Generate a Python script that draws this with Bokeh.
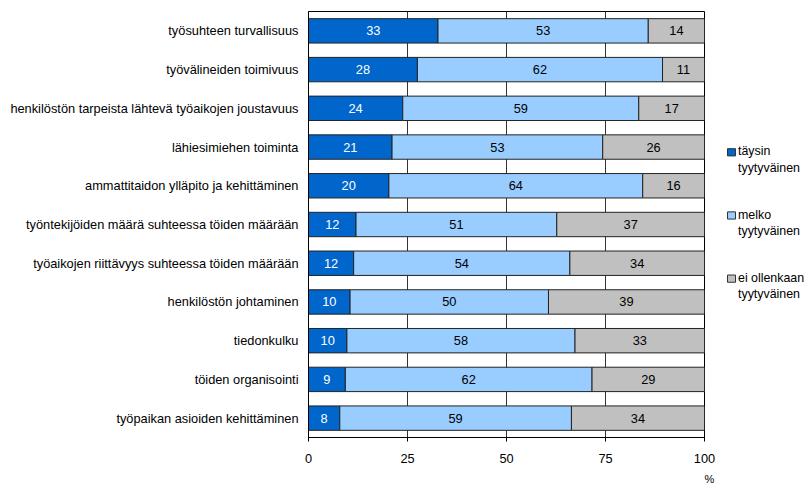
import numpy as np
from bokeh.plotting import figure
from bokeh.models import ColumnDataSource, FactorRange, Range1d, FixedTicker
from bokeh.core.properties import value
from bokeh.layouts import row, column
from bokeh.embed import file_html
from bokeh.resources import INLINE

categories = [
    "työsuhteen turvallisuus",
    "työvälineiden toimivuus",
    "henkilöstön tarpeista lähtevä työaikojen joustavuus",
    "lähiesimiehen toiminta",
    "ammattitaidon ylläpito ja kehittäminen",
    "työntekijöiden määrä suhteessa töiden määrään",
    "työaikojen riittävyys suhteessa töiden määrään",
    "henkilöstön johtaminen",
    "tiedonkulku",
    "töiden organisointi",
    "työpaikan asioiden kehittäminen",
]
taysin = [32.7, 27.5, 23.8, 21.1, 20.3, 12.0, 11.4, 10.5, 9.7, 9.3, 7.9]
melko = [53.1, 61.9, 59.6, 53.2, 64.1, 50.7, 54.6, 50.1, 57.6, 62.3, 58.5]
ei = [14.2, 10.6, 16.6, 25.7, 15.6, 37.3, 34.0, 39.4, 32.7, 28.4, 33.6]
taysin_lbl = [33, 28, 24, 21, 20, 12, 12, 10, 10, 9, 8]
melko_lbl = [53, 62, 59, 53, 64, 51, 54, 50, 58, 62, 59]
ei_lbl = [14, 11, 17, 26, 16, 37, 34, 39, 33, 29, 34]
series_names = ["täysin\ntyytyväinen", "melko\ntyytyväinen", "ei ollenkaan\ntyytyväinen"]
x_ticks = [0, 25, 50, 75, 100]
x_unit = "%"

colors = ["#0066CC", "#99CCFF", "#C0C0C0"]
FONT = "Liberation Sans"
FS = "12.8px"
TOTAL_W, TOTAL_H = 806, 484
W, H = 720, 472          # main chart panel
STRIP_H = TOTAL_H - H    # strip below holding the unit label

t = np.array(taysin)
m = np.array(melko)
e = np.array(ei)
src = ColumnDataSource(dict(
    cat=categories, t=taysin, m=melko, e=ei,
    tx=t / 2, mx=t + m / 2, ex=t + m + e / 2,
    tl=[str(v) for v in taysin_lbl], ml=[str(v) for v in melko_lbl], el=[str(v) for v in ei_lbl],
))

p = figure(width=W, height=H, output_backend="svg", toolbar_location=None,
           y_range=FactorRange(factors=list(reversed(categories)), range_padding=0),
           x_range=Range1d(0, 100),
           min_border_left=308, min_border_right=W - 308 - 396, min_border_top=11,
           min_border_bottom=H - 11 - 426)
p.hbar_stack(["t", "m", "e"], y="cat", height=0.63, fill_color=colors,
             line_color="#222222", line_width=1, source=src)

for col, lab, tc in (("tx", "tl", "white"), ("mx", "ml", "black"), ("ex", "el", "black")):
    p.text(x=col, y="cat", text=lab, source=src, text_color=tc,
           text_font=value(FONT), text_font_size=FS, text_align="center",
           text_baseline="middle")

p.xaxis.ticker = FixedTicker(ticks=x_ticks)
p.xaxis.minor_tick_line_color = None
p.xaxis.major_tick_out = 4
p.xaxis.major_tick_in = 0
p.xaxis.major_tick_line_color = "black"
p.xaxis.axis_line_color = "black"
p.xaxis.major_label_standoff = 12
p.xaxis.major_label_text_font = FONT
p.xaxis.major_label_text_font_size = FS
p.xaxis.major_label_text_color = "black"

p.yaxis.major_tick_line_color = None
p.yaxis.minor_tick_line_color = None
p.yaxis.major_tick_out = 0
p.yaxis.axis_line_color = "black"
p.yaxis.major_label_standoff = 10
p.yaxis.major_label_text_font = FONT
p.yaxis.major_label_text_font_size = FS
p.yaxis.major_label_text_color = "black"

p.ygrid.grid_line_color = None
p.xgrid.grid_line_color = "#333333"
p.xgrid.grid_line_width = 1
p.xgrid.level = "underlay"
p.outline_line_color = "black"
p.outline_line_width = 1
p.background_fill_color = "white"
p.border_fill_color = "white"

# legend panel (separate figure, pixel coordinates from its top-left)
LW = TOTAL_W - W
lp = figure(width=LW, height=H, output_backend="svg", toolbar_location=None,
            x_range=Range1d(0, LW), y_range=Range1d(H, 0),
            min_border=0, x_axis_location=None, y_axis_location=None)
lp.grid.grid_line_color = None
lp.outline_line_color = None
leg_y = [156, 226, 296]
first = [s.split("\n")[0] for s in series_names]
second = [s.split("\n")[1] for s in series_names]
lsrc = ColumnDataSource(dict(x=[11] * 3, y=leg_y, c=colors, tx=[17.5] * 3,
                             y1=[v - 1 for v in leg_y], y2=[v + 17 for v in leg_y],
                             a=first, b=second))
lp.rect(x="x", y="y", width=8, height=8, fill_color="c", line_color="#333333", source=lsrc)
lp.text(x="tx", y="y1", text="a", source=lsrc, text_font=value(FONT), text_font_size="12.4px",
        text_baseline="middle", text_color="black")
lp.text(x="tx", y="y2", text="b", source=lsrc, text_font=value(FONT), text_font_size="12.4px",
        text_baseline="middle", text_color="black")

# thin strip under the chart carrying the x unit ("%") near the right end of the axis
sp = figure(width=TOTAL_W, height=STRIP_H, output_backend="svg", toolbar_location=None,
            x_range=Range1d(0, TOTAL_W), y_range=Range1d(STRIP_H, 0),
            min_border=0, x_axis_location=None, y_axis_location=None)
sp.grid.grid_line_color = None
sp.outline_line_color = None
sp.text(x=[709], y=[STRIP_H / 2], text=[x_unit], text_font=value(FONT), text_font_size="11px",
        text_align="center", text_baseline="middle", text_color="black")

layout = column(row(p, lp), sp)
open("out.html", "w").write(file_html(layout, INLINE))
